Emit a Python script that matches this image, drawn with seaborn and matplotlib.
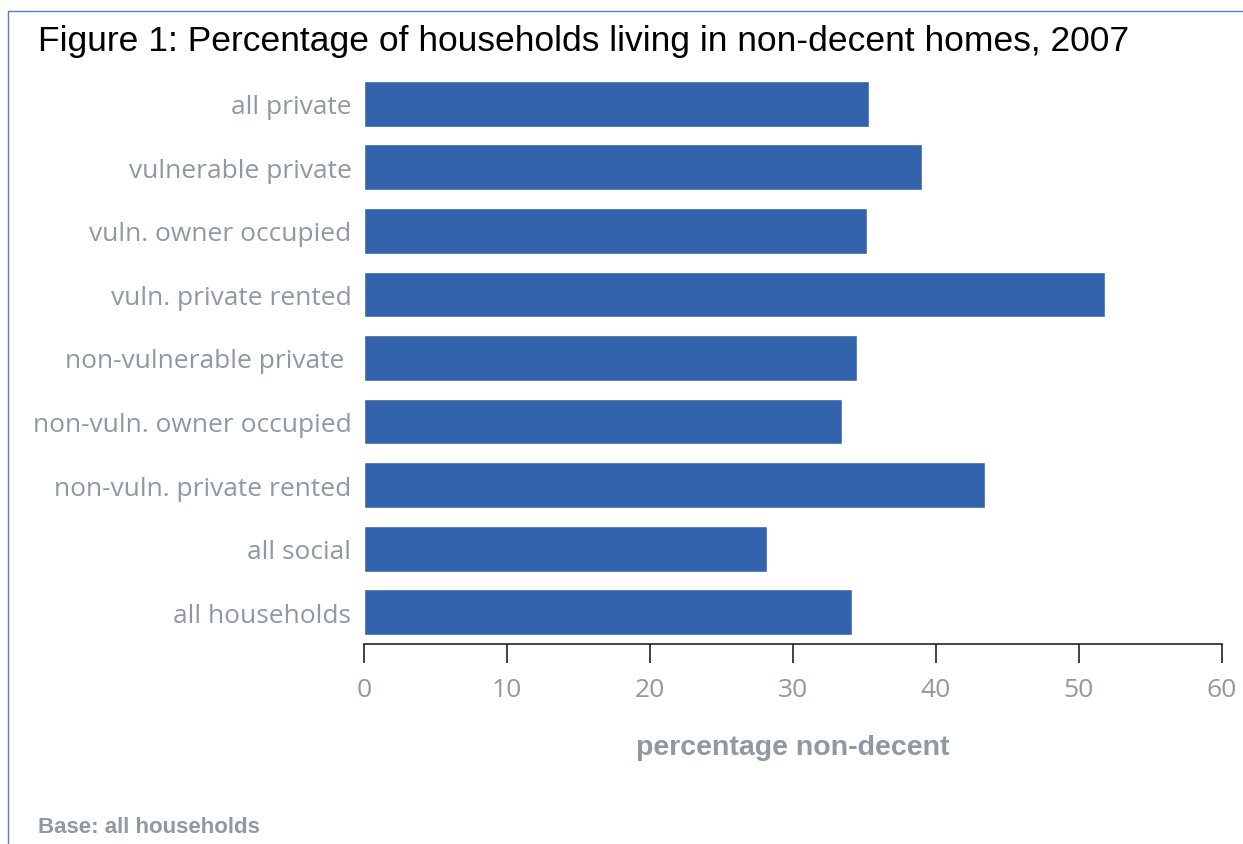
import matplotlib
matplotlib.use("Agg")
import matplotlib.pyplot as plt
import seaborn as sns
import pandas as pd
from matplotlib.lines import Line2D

categories = ["all private", "vulnerable private", "vuln. owner occupied",
              "vuln. private rented", "non-vulnerable private ",
              "non-vuln. owner occupied", "non-vuln. private rented",
              "all social", "all households"]
values = [35.3, 39.0, 35.2, 51.8, 34.5, 33.4, 43.4, 28.2, 34.1]
xticks = [0, 10, 20, 30, 40, 50, 60]

df = pd.DataFrame({"category": categories, "value": values})

sns.set_theme(style="white")
plt.rcParams["font.family"] = ["Open Sans", "DejaVu Sans"]

BAR = "#3463AD"
GREY = "#8E99A3"

fig = plt.figure(figsize=(12.43, 8.45), dpi=100)
ax = fig.add_axes([0.2928, 0.2367, 0.983 - 0.2928, 0.9136 - 0.2367])

sns.barplot(data=df, x="value", y="category", orient="h", color=BAR,
            saturation=1, width=0.72, ax=ax)

ax.set_xlim(0, 60)
ax.set_ylim(8.5, -0.5)
ax.set_xticks(xticks)
ax.set_xticklabels([str(t) for t in xticks])
for s in ["top", "right", "left"]:
    ax.spines[s].set_visible(False)
ax.spines["bottom"].set_color("#222222")
ax.spines["bottom"].set_linewidth(1.2)
ax.tick_params(axis="x", direction="out", length=14, width=1.2, color="#222222",
               labelsize=19, labelcolor=GREY, pad=10, bottom=True)
ax.tick_params(axis="y", length=0, labelsize=19, labelcolor=GREY, pad=9)
ax.set_ylabel("")
ax.set_xlabel("percentage non-decent", fontsize=20.5, fontweight="bold",
              color=GREY, labelpad=23, family=["Liberation Sans", "DejaVu Sans"])

fig.text(38 / 1243, 1 - 42 / 845, "Figure 1: Percentage of households living in non-decent homes, 2007",
         fontsize=25.5, color="black", va="center", ha="left",
         family=["Liberation Sans", "DejaVu Sans"])
fig.text(38 / 1243, 1 - 828 / 845, "Base: all households", fontsize=16,
         fontweight="bold", color=GREY, va="center", ha="left",
         family=["Liberation Sans", "DejaVu Sans"])

# frame lines (top and left)
BORDER = "#5B7FC7"
fig.add_artist(Line2D([8 / 1243, 1], [1 - 12 / 845, 1 - 12 / 845],
                      transform=fig.transFigure, color=BORDER, lw=1))
fig.add_artist(Line2D([8 / 1243, 8 / 1243], [0, 1 - 12 / 845],
                      transform=fig.transFigure, color=BORDER, lw=1))

fig.savefig("out.png", dpi=100)
